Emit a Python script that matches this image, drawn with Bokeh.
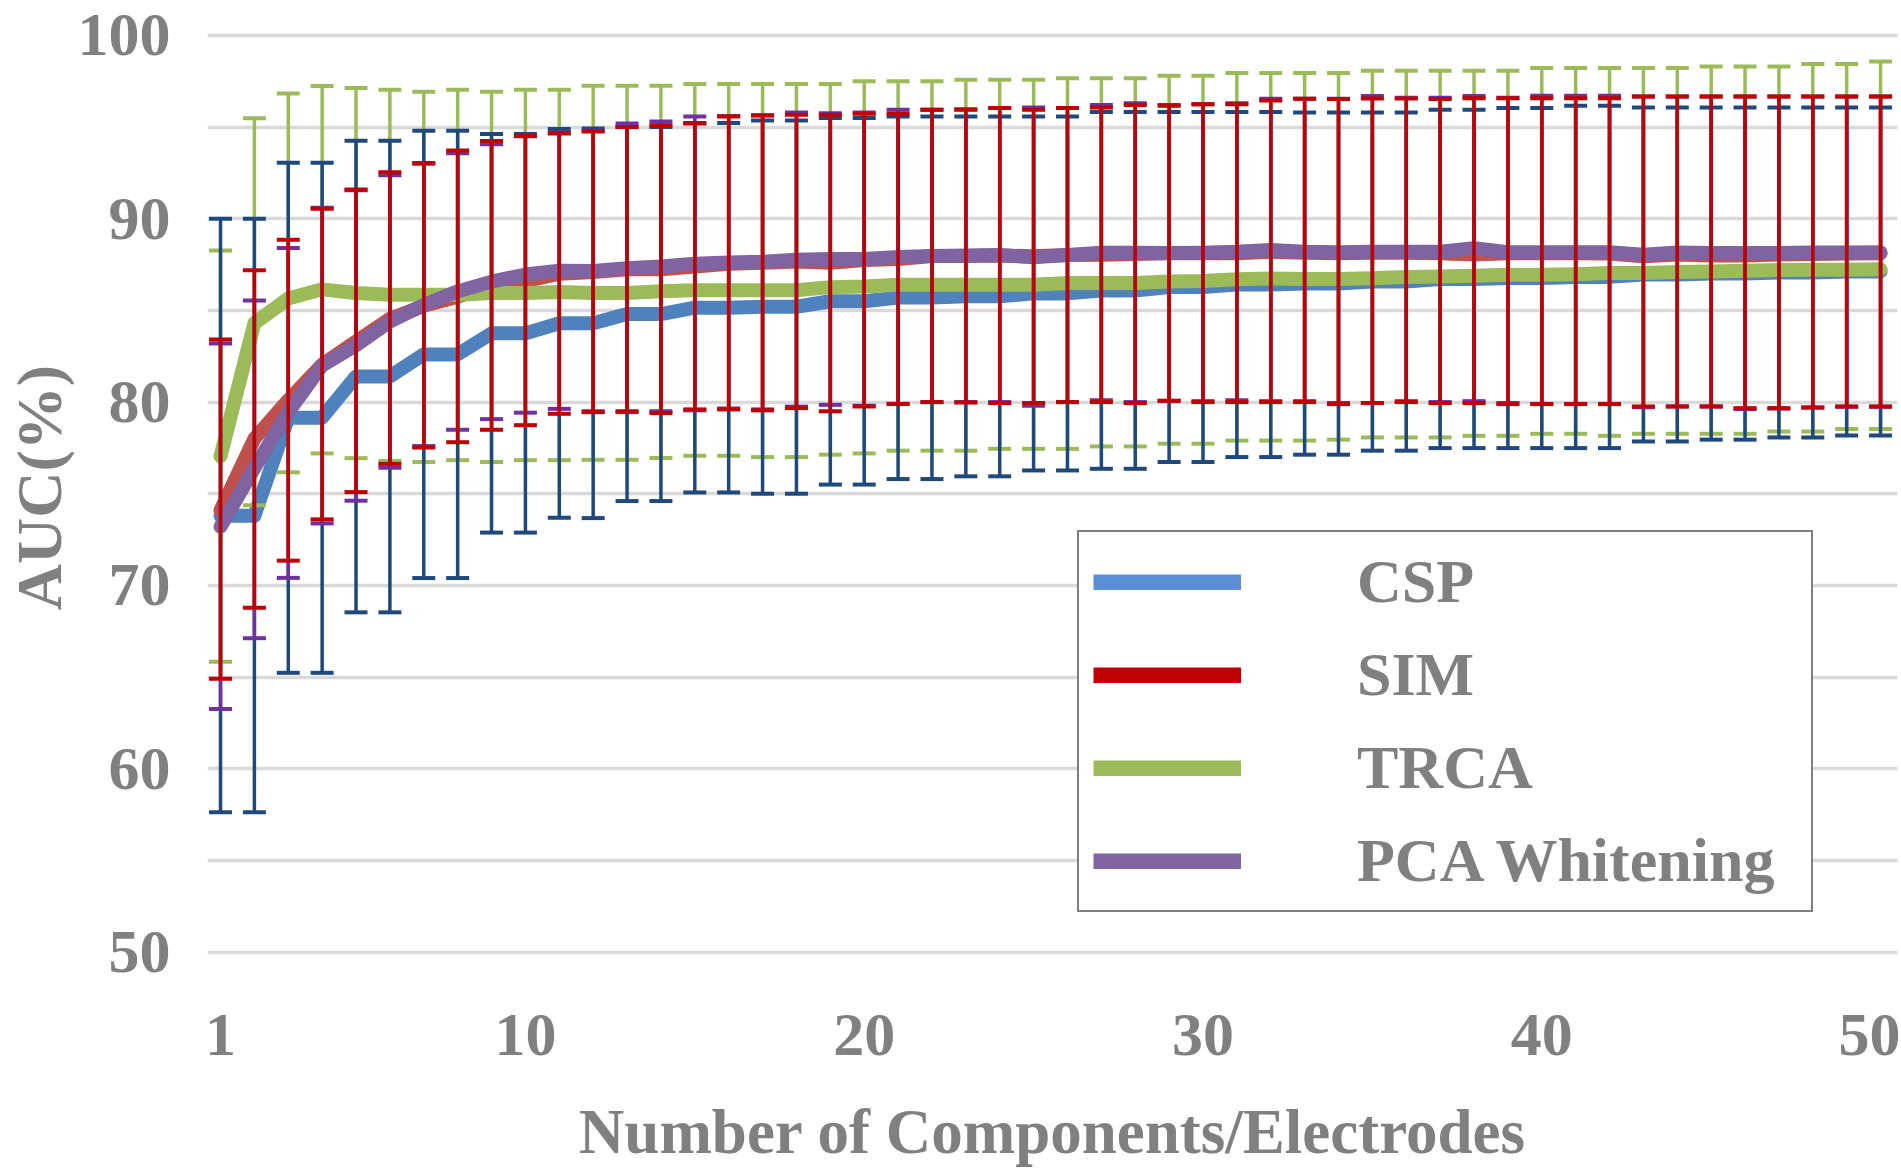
from bokeh.plotting import figure
from bokeh.models import (ColumnDataSource, Whisker, TeeHead, FixedTicker, Range1d,
                          Legend, LegendItem)
from bokeh.embed import file_html
from bokeh.resources import INLINE

# ---------------- data ----------------
n_components = list(range(1, 51))

csp_mean = [73.8, 73.8, 79.15, 79.15, 81.4, 81.4, 82.6, 82.6, 83.75, 83.75,
            84.3, 84.3, 84.8, 84.8, 85.15, 85.15, 85.2, 85.2, 85.5, 85.5,
            85.7, 85.7, 85.77, 85.77, 85.93, 85.93, 86.09, 86.09, 86.28, 86.28,
            86.41, 86.41, 86.47, 86.47, 86.58, 86.58, 86.72, 86.72, 86.77, 86.77,
            86.83, 86.83, 86.96, 86.96, 87.01, 87.01, 87.07, 87.07, 87.13, 87.13]
csp_upper = [90.0, 90.0, 93.05, 93.05, 94.25, 94.25, 94.8, 94.8, 94.62, 94.62,
             94.9, 94.93, 95.0, 95.0, 95.22, 95.22, 95.36, 95.36, 95.5, 95.5,
             95.58, 95.58, 95.58, 95.58, 95.58, 95.58, 95.82, 95.82, 95.82, 95.82,
             95.82, 95.82, 95.8, 95.8, 95.8, 95.8, 95.95, 95.95, 96.04, 96.04,
             96.16, 96.16, 96.07, 96.07, 96.07, 96.07, 96.07, 96.07, 96.07, 96.07]
csp_lower = [57.63, 57.63, 65.23, 65.23, 68.53, 68.53, 70.4, 70.4, 72.88, 72.88,
             73.69, 73.67, 74.6, 74.6, 75.07, 75.07, 75.0, 75.0, 75.5, 75.5,
             75.8, 75.8, 75.95, 75.95, 76.27, 76.27, 76.36, 76.36, 76.73, 76.73,
             77.0, 77.0, 77.13, 77.13, 77.35, 77.35, 77.49, 77.49, 77.49, 77.49,
             77.49, 77.49, 77.85, 77.85, 77.95, 77.95, 78.07, 78.07, 78.18, 78.18]

sim_mean = [74.1, 78.0, 80.1, 82.05, 83.3, 84.55, 85.25, 85.75, 86.35, 86.6,
            87.0, 87.1, 87.25, 87.25, 87.4, 87.55, 87.6, 87.67, 87.6, 87.75,
            87.8, 87.97, 87.97, 88.0, 87.95, 88.02, 88.04, 88.08, 88.12, 88.12,
            88.12, 88.2, 88.15, 88.12, 88.15, 88.15, 88.12, 88.05, 88.12, 88.12,
            88.12, 88.1, 87.95, 88.05, 88.0, 88.0, 88.05, 88.08, 88.1, 88.12]
sim_upper = [83.42, 87.19, 88.85, 90.55, 91.6, 92.54, 93.04, 93.72, 94.24, 94.51,
             94.65, 94.76, 95.0, 95.1, 95.2, 95.58, 95.64, 95.67, 95.67, 95.73,
             95.73, 95.95, 95.95, 96.04, 95.95, 96.04, 96.07, 96.2, 96.16, 96.25,
             96.25, 96.45, 96.55, 96.53, 96.56, 96.56, 96.53, 96.58, 96.58, 96.58,
             96.58, 96.58, 96.67, 96.67, 96.67, 96.67, 96.67, 96.67, 96.67, 96.67]
sim_lower = [64.91, 68.78, 71.35, 73.6, 75.09, 76.63, 77.52, 77.81, 78.49, 78.74,
             79.36, 79.45, 79.5, 79.4, 79.6, 79.6, 79.55, 79.67, 79.5, 79.76,
             79.9, 80.0, 79.98, 79.95, 79.95, 80.0, 80.0, 79.95, 80.07, 80.0,
             80.0, 80.0, 80.0, 79.89, 79.95, 80.0, 79.95, 79.95, 79.89, 79.89,
             79.89, 79.89, 79.76, 79.76, 79.76, 79.67, 79.67, 79.71, 79.76, 79.76]

trca_mean = [77.04, 84.3, 85.65, 86.15, 85.95, 85.85, 85.85, 85.85, 85.95, 85.95,
             86.0, 85.95, 85.95, 86.04, 86.1, 86.1, 86.1, 86.1, 86.27, 86.3,
             86.4, 86.4, 86.4, 86.4, 86.4, 86.5, 86.5, 86.5, 86.58, 86.6,
             86.7, 86.74, 86.72, 86.72, 86.76, 86.82, 86.85, 86.89, 86.95, 86.95,
             86.98, 87.04, 87.04, 87.09, 87.13, 87.16, 87.2, 87.22, 87.22, 87.25]
trca_upper = [88.27, 95.48, 96.83, 97.24, 97.14, 97.04, 96.93, 97.04, 96.93, 97.04,
              97.04, 97.25, 97.25, 97.25, 97.35, 97.35, 97.35, 97.35, 97.35, 97.5,
              97.5, 97.5, 97.58, 97.58, 97.58, 97.67, 97.67, 97.67, 97.8, 97.8,
              97.95, 97.95, 97.95, 97.95, 98.07, 98.07, 98.07, 98.07, 98.07, 98.22,
              98.22, 98.22, 98.22, 98.22, 98.31, 98.31, 98.31, 98.44, 98.44, 98.58]
trca_lower = [65.83, 74.37, 76.17, 77.2, 76.94, 76.79, 76.73, 76.83, 76.73, 76.83,
              76.83, 76.85, 76.85, 76.95, 77.07, 77.07, 77.0, 77.0, 77.13, 77.2,
              77.35, 77.35, 77.35, 77.45, 77.45, 77.45, 77.58, 77.58, 77.73, 77.73,
              77.9, 77.9, 77.9, 77.95, 78.07, 78.07, 78.07, 78.16, 78.16, 78.27,
              78.27, 78.16, 78.27, 78.27, 78.27, 78.27, 78.4, 78.4, 78.53, 78.53]

pca_mean = [73.2, 76.4, 79.45, 82.0, 83.1, 84.4, 85.3, 86.04, 86.57, 86.96,
            87.17, 87.15, 87.3, 87.4, 87.55, 87.62, 87.65, 87.77, 87.8, 87.8,
            87.92, 87.97, 88.0, 88.02, 87.9, 88.02, 88.15, 88.15, 88.13, 88.15,
            88.2, 88.3, 88.2, 88.18, 88.2, 88.2, 88.2, 88.4, 88.18, 88.18,
            88.18, 88.18, 88.04, 88.16, 88.13, 88.13, 88.13, 88.16, 88.16, 88.18]
pca_upper = [83.2, 85.54, 88.4, 90.6, 91.55, 92.37, 93.0, 93.58, 94.07, 94.5,
             94.7, 94.8, 95.2, 95.3, 95.58, 95.6, 95.65, 95.8, 95.75, 95.8,
             95.95, 95.95, 95.98, 96.04, 96.07, 96.04, 96.2, 96.3, 96.2, 96.25,
             96.3, 96.55, 96.55, 96.55, 96.7, 96.6, 96.6, 96.7, 96.6, 96.71,
             96.71, 96.71, 96.67, 96.67, 96.67, 96.67, 96.67, 96.67, 96.67, 96.67]
pca_lower = [63.26, 67.12, 70.41, 73.38, 74.62, 76.42, 77.6, 78.49, 79.07, 79.42,
             79.63, 79.5, 79.45, 79.5, 79.55, 79.65, 79.6, 79.75, 79.85, 79.8,
             79.9, 80.0, 80.0, 80.0, 79.8, 80.0, 80.1, 80.0, 80.07, 80.05,
             80.1, 80.05, 80.05, 79.95, 79.95, 80.05, 80.0, 80.05, 79.95, 79.9,
             79.9, 79.9, 79.72, 79.76, 79.76, 79.62, 79.65, 79.7, 79.74, 79.74]

series_names = ["CSP", "SIM", "TRCA", "PCA Whitening"]
x_tick_values = [1, 10, 20, 30, 40, 50]
y_tick_values = [50, 60, 70, 80, 90, 100]
y_minor_values = [55, 65, 75, 85, 95]

x_title = "Number of Components/Electrodes"
y_title = "AUC(%)"

# ---------------- styles ----------------
FONT = "Liberation Serif"
GRAY = "#808080"
line_colors = {"CSP": "#4F81BD", "SIM": "#C0504D", "TRCA": "#9BBB59", "PCA Whitening": "#8064A2"}
bar_colors = {"CSP": "#1F497D", "SIM": "#C00000", "TRCA": "#9BBB59", "PCA Whitening": "#7030A0"}
swatch_colors = {"CSP": "#5B8ED6", "SIM": "#C00000", "TRCA": "#9BBB59", "PCA Whitening": "#8064A2"}

data = {
    "CSP": (csp_mean, csp_upper, csp_lower),
    "SIM": (sim_mean, sim_upper, sim_lower),
    "TRCA": (trca_mean, trca_upper, trca_lower),
    "PCA Whitening": (pca_mean, pca_upper, pca_lower),
}

p = figure(width=1900, height=1170, output_backend="svg", toolbar_location=None,
           x_range=Range1d(0.616, 50.5), y_range=Range1d(49.7, 100.98),
           min_border_left=207, min_border_right=3, min_border_top=17,
           min_border_bottom=213)
p.outline_line_color = None
p.background_fill_color = "white"
p.border_fill_color = "white"

# grid
p.xgrid.visible = False
p.ygrid.grid_line_color = "#D9D9D9"
p.ygrid.grid_line_width = 3.5
p.ygrid.minor_grid_line_color = "#D9D9D9"
p.ygrid.minor_grid_line_width = 3.5

# axes
p.yaxis.ticker = FixedTicker(ticks=y_tick_values, minor_ticks=y_minor_values)
p.xaxis.ticker = FixedTicker(ticks=x_tick_values)
for ax in (p.xaxis[0], p.yaxis[0]):
    ax.axis_line_color = None
    ax.major_tick_line_color = None
    ax.minor_tick_line_color = None
    ax.major_tick_out = 0
    ax.major_tick_in = 0
    ax.minor_tick_out = 0
    ax.minor_tick_in = 0
    ax.major_label_text_font = FONT
    ax.major_label_text_font_style = "bold"
    ax.major_label_text_font_size = "62px"
    ax.major_label_text_color = GRAY
    ax.axis_label_text_font = FONT
    ax.axis_label_text_font_style = "bold"
    ax.axis_label_text_color = GRAY

p.yaxis.axis_label = y_title
p.yaxis.axis_label_text_font_size = "64px"
p.yaxis.major_label_standoff = 37
p.yaxis.axis_label_standoff = 0

p.xaxis.axis_label = x_title
p.xaxis.axis_label_text_font_size = "63px"
p.xaxis.major_label_standoff = 57
p.xaxis.axis_label_standoff = 39

# lines (CSP, SIM, TRCA, PCA order)
for name in series_names:
    mean = data[name][0]
    p.line(n_components, mean, line_width=14, line_color=line_colors[name],
           line_join="round", line_cap="round")

# error bars: TRCA, CSP, PCA, SIM (SIM on top)
for name in ["TRCA", "CSP", "PCA Whitening", "SIM"]:
    mean, upper, lower = data[name]
    src = ColumnDataSource(dict(x=n_components, upper=upper, lower=lower))
    c = bar_colors[name]
    w = Whisker(base="x", upper="upper", lower="lower", source=src,
                line_color=c, line_width=3.5, level="annotation",
                upper_head=TeeHead(size=23, line_color=c, line_width=4),
                lower_head=TeeHead(size=23, line_color=c, line_width=4))
    p.add_layout(w)

# legend swatches (renderers carrying only a NaN point, used for the key colours)
items = []
for name in series_names:
    r = p.line([float("nan")], [float("nan")], line_width=16,
               line_color=swatch_colors[name])
    items.append(LegendItem(label=name, renderers=[r]))

legend = Legend(items=items, location=(870, 45), margin=0,
                border_line_color="black", border_line_width=2.5,
                background_fill_color="white", background_fill_alpha=1.0,
                label_text_font=FONT, label_text_font_style="bold",
                label_text_font_size="62px", label_text_color=GRAY,
                glyph_width=148, glyph_height=16, label_standoff=116,
                label_width=440, padding=14, spacing=22)
p.add_layout(legend)

open("out.html", "w").write(file_html(p, INLINE))
